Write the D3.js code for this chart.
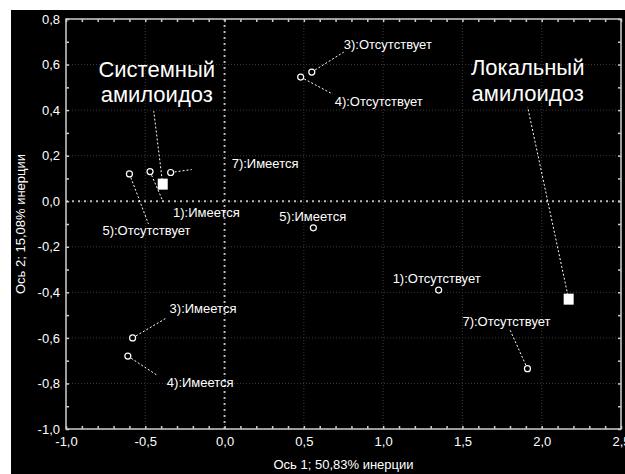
<!DOCTYPE html>
<html>
<head>
<meta charset="utf-8">
<script src="https://cdn.jsdelivr.net/npm/d3@7"></script>
<style>
  body { margin: 0; background: #fff; }
  svg { display: block; }
  text { font-family: "Liberation Sans", Arial, sans-serif; fill: #fff; }
</style>
</head>
<body>
<svg></svg>
<script>
// data: category points (axis 1, axis 2)
var labels = ["1):Имеется", "3):Имеется", "4):Имеется", "5):Имеется", "7):Имеется",
              "1):Отсутствует", "3):Отсутствует", "4):Отсутствует", "5):Отсутствует", "7):Отсутствует"];
var dim1 = [-0.47, -0.58, -0.61, 0.56, -0.34, 1.35, 0.55, 0.48, -0.60, 1.91];
var dim2 = [0.13, -0.60, -0.68, -0.117, 0.126, -0.39, 0.567, 0.545, 0.12, -0.735];

// supplementary points (groups)
var groups = [["Системный", "амилоидоз"], ["Локальный", "амилоидоз"]];
var groupDim1 = [-0.39, 2.17];
var groupDim2 = [0.075, -0.43];

var xTicks = [-1.0, -0.5, 0.0, 0.5, 1.0, 1.5, 2.0, 2.5];
var yTicks = [-1.0, -0.8, -0.6, -0.4, -0.2, 0.0, 0.2, 0.4, 0.6, 0.8];
var xTitle = "Ось 1; 50,83% инерции";
var yTitle = "Ось 2; 15,08% инерции";

// label placement (pixel offsets from the point): text left/middle, leader end
var labelOff = [[23, 41], [37, -29], [39, 26], [-34, -11], [61, -9],
                [-46, -12], [32, -28], [34, 24], [-27, 57], [-65, -47]];
var leaderOff = [[13, 30], [34, -20], [29, 19], null, [21, -3],
                 null, [32, -20], [32, 17], [19, 50], [-18, -40]];
var groupLabelPos = [[-6, -115, -90], [-41, -232, -206]]; // dx, line1 dy, line2 dy
var groupLeaderOff = [[-9, -73], [-41, -192]];

var svg = d3.select("svg").attr("width", 625).attr("height", 474);

svg.append("rect").attr("x", 11).attr("y", 10).attr("width", 614).attr("height", 464)
   .style("fill", "#000");

var x = d3.scaleLinear().domain([-1, 2.5]).range([66, 621]);
var y = d3.scaleLinear().domain([-1, 0.8]).range([429, 19]);

function fmt(d) { return d.toFixed(1).replace(".", ","); }

// grid
svg.append("g").selectAll("line").data(xTicks).join("line")
   .attr("x1", d => x(d)).attr("x2", d => x(d)).attr("y1", y(0.8)).attr("y2", y(-1))
   .style("stroke", "#3a3a3a").style("stroke-dasharray", "1,2");
svg.append("g").selectAll("line").data(yTicks).join("line")
   .attr("y1", d => y(d)).attr("y2", d => y(d)).attr("x1", x(-1)).attr("x2", x(2.5))
   .style("stroke", "#3a3a3a").style("stroke-dasharray", "1,2");

// zero lines
svg.append("line").attr("x1", x(0)).attr("x2", x(0)).attr("y1", y(0.8)).attr("y2", y(-1))
   .style("stroke", "#bbb").style("stroke-width", 2).style("stroke-dasharray", "2,4");
svg.append("line").attr("y1", y(0)).attr("y2", y(0)).attr("x1", x(-1)).attr("x2", x(2.5))
   .style("stroke", "#bbb").style("stroke-width", 2).style("stroke-dasharray", "2,4");

// minor inward ticks on all four sides
var xMinor = d3.range(-10, 26).map(d => d / 10);
var yMinor = d3.range(-10, 9).map(d => d / 10);
function tickStyle(g) {
  g.select(".domain").remove();
  g.selectAll(".tick line").style("stroke", "#ccc").style("stroke-width", 1.5);
  g.selectAll(".tick text").remove();
}
svg.append("g").attr("transform", "translate(0," + y(-1) + ")")
   .call(d3.axisBottom(x).tickValues(xMinor).tickSize(-3)).call(tickStyle);
svg.append("g").attr("transform", "translate(0," + y(0.8) + ")")
   .call(d3.axisTop(x).tickValues(xMinor).tickSize(-3)).call(tickStyle);
svg.append("g").attr("transform", "translate(" + x(-1) + ",0)")
   .call(d3.axisLeft(y).tickValues(yMinor).tickSize(-3)).call(tickStyle);
svg.append("g").attr("transform", "translate(" + x(2.5) + ",0)")
   .call(d3.axisRight(y).tickValues(yMinor).tickSize(-3)).call(tickStyle);

// tick labels
var xAxis = svg.append("g").attr("transform", "translate(0," + y(-1) + ")")
   .call(d3.axisBottom(x).tickValues(xTicks).tickSize(0).tickPadding(8).tickFormat(fmt));
var yAxis = svg.append("g").attr("transform", "translate(" + x(-1) + ",0)")
   .call(d3.axisLeft(y).tickValues(yTicks).tickSize(0).tickPadding(6).tickFormat(fmt));
[xAxis, yAxis].forEach(function (g) {
  g.select(".domain").remove();
  g.selectAll("text").style("fill", "#fff").style("font-size", "13px")
   .style("font-family", "Liberation Sans, Arial, sans-serif");
});

// frame
svg.append("rect").attr("x", x(-1)).attr("y", y(0.8))
   .attr("width", x(2.5) - x(-1)).attr("height", y(-1) - y(0.8))
   .style("fill", "none").style("stroke", "#ccc").style("stroke-width", 1.5);

// axis titles
svg.append("text").attr("x", (x(-1) + x(2.5)) / 2).attr("y", 469)
   .attr("text-anchor", "middle").style("font-size", "13px").text(xTitle);
svg.append("text").attr("transform", "translate(25," + (y(-1) + y(0.8)) / 2 + ") rotate(-90)")
   .attr("text-anchor", "middle").style("font-size", "13px").text(yTitle);

var pts = labels.map((l, i) => ({ label: l, x: x(dim1[i]), y: y(dim2[i]), off: labelOff[i], lead: leaderOff[i] }));

// leader lines
svg.append("g").selectAll("line").data(pts.filter(d => d.lead)).join("line")
   .attr("x1", d => d.x).attr("y1", d => d.y)
   .attr("x2", d => d.x + d.lead[0]).attr("y2", d => d.y + d.lead[1])
   .style("stroke", "#fff").style("stroke-dasharray", "2,2");

var gpts = groups.map((g, i) => ({ lines: g, x: x(groupDim1[i]), y: y(groupDim2[i]), pos: groupLabelPos[i], lead: groupLeaderOff[i] }));
svg.append("g").selectAll("line").data(gpts).join("line")
   .attr("x1", d => d.x).attr("y1", d => d.y)
   .attr("x2", d => d.x + d.lead[0]).attr("y2", d => d.y + d.lead[1])
   .style("stroke", "#fff").style("stroke-dasharray", "2,2");

// points
svg.append("g").selectAll("circle").data(pts).join("circle")
   .attr("cx", d => d.x).attr("cy", d => d.y).attr("r", 3)
   .style("fill", "#000").style("stroke", "#fff").style("stroke-width", 1.2);

svg.append("g").selectAll("rect").data(gpts).join("rect")
   .attr("x", d => d.x - 5).attr("y", d => d.y - 5.5).attr("width", 10).attr("height", 11)
   .style("fill", "#fff");

// point labels
svg.append("g").selectAll("text").data(pts).join("text")
   .attr("x", d => d.x + d.off[0]).attr("y", d => d.y + d.off[1])
   .attr("dy", "0.35em").style("font-size", "13px").text(d => d.label);

// group labels
var gl = svg.append("g").selectAll("text").data(gpts).join("text")
   .attr("text-anchor", "middle").style("font-size", "22px");
gl.append("tspan").attr("x", d => d.x + d.pos[0]).attr("y", d => d.y + d.pos[1]).attr("dy", "0.35em").text(d => d.lines[0]);
gl.append("tspan").attr("x", d => d.x + d.pos[0]).attr("y", d => d.y + d.pos[2]).attr("dy", "0.35em").text(d => d.lines[1]);
</script>
</body>
</html>
